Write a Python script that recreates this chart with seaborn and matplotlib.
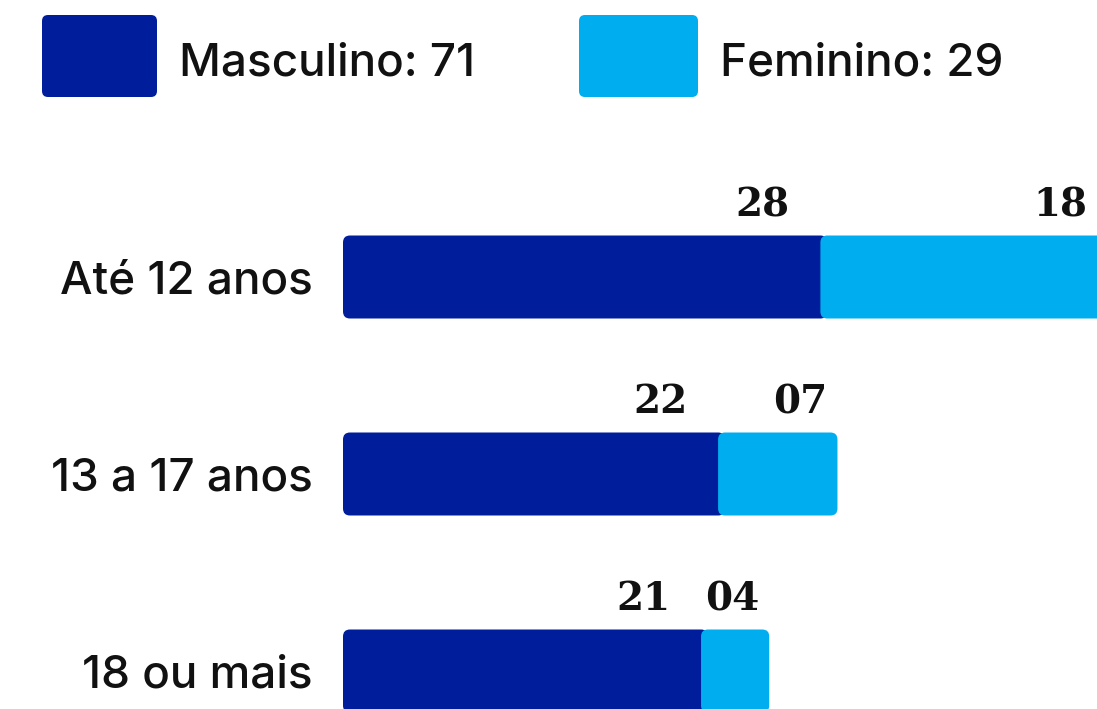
import matplotlib
matplotlib.use("Agg")
import matplotlib.pyplot as plt
from matplotlib.patches import FancyBboxPatch
import seaborn as sns
import pandas as pd

# ---- data ----
categories = ["Até 12 anos", "13 a 17 anos", "18 ou mais"]
masculino = [28, 22, 21]
feminino = [18, 7, 4]
series_names = ["Masculino", "Feminino"]

DARK = "#001E9B"
LIGHT = "#00AEEF"

sns.set_theme(style="white")
plt.rcParams["font.family"] = ["Inter", "DejaVu Sans"]

W, H = 1097, 709
fig = plt.figure(figsize=(W / 100, H / 100), dpi=100)

left_px = 343
ax = fig.add_axes([left_px / W, 0, (W - left_px) / W, 1])

df = pd.DataFrame({
    "cat": categories,
    "masc": masculino,
    "fem": feminino,
})
df["total"] = df["masc"] + df["fem"]

px_per_x = 17.05
px_per_y = 197.0
first_center = 277.0
bar_h = 83 / px_per_y

sns.barplot(data=df, y="cat", x="total", color=LIGHT, orient="h",
            width=bar_h, ax=ax, saturation=1, zorder=2)
n_tot = len(ax.patches)
sns.barplot(data=df, y="cat", x="masc", color=DARK, orient="h",
            width=bar_h, ax=ax, saturation=1, zorder=1)

xmax = (W - left_px) / px_per_x
ax.set_xlim(0, xmax)
ax.set_ylim((H - first_center) / px_per_y, -first_center / px_per_y)

# rounded corners
r_px = 7
rx = r_px / px_per_x
aspect = px_per_x / px_per_y
patches = list(ax.patches)
tot_p = patches[:n_tot]
masc_p = patches[n_tot:]
for p in patches:
    p.set_visible(False)
num_font = dict(family=["DejaVu Serif"], fontweight="bold", fontsize=28,
                color="#111111")
for i, (pt, pm) in enumerate(zip(tot_p, masc_p)):
    y0, h = pm.get_y(), pm.get_height()
    m = pm.get_width()
    t = pt.get_width()
    fb_m = FancyBboxPatch((pm.get_x(), y0), m + rx, h,
                          boxstyle=f"round,pad=0,rounding_size={rx}",
                          mutation_aspect=aspect, facecolor=DARK,
                          edgecolor="none", zorder=2)
    fb_f = FancyBboxPatch((m, y0), t - m, h,
                          boxstyle=f"round,pad=0,rounding_size={rx}",
                          mutation_aspect=aspect, facecolor=LIGHT,
                          edgecolor="none", zorder=3)
    ax.add_patch(fb_m)
    ax.add_patch(fb_f)
    top = y0
    ax.annotate(f"{masculino[i]:02d}", xy=(m, top), xytext=(-22, 14),
                textcoords="offset points", ha="right", va="baseline",
                annotation_clip=False, zorder=5, **num_font)
    ax.annotate(f"{feminino[i]:02d}", xy=(min(t, xmax), top),
                xytext=(-7, 14),
                textcoords="offset points", ha="right", va="baseline",
                annotation_clip=False, zorder=5, **num_font)

ax.set_xlabel("")
ax.set_ylabel("")
ax.set_xticks([])
ax.tick_params(axis="y", length=0, pad=22, labelsize=33, labelcolor="#111111")
for lab in ax.get_yticklabels():
    lab.set_fontweight("medium")
for s in ax.spines.values():
    s.set_visible(False)

# legend
totals = [sum(masculino), sum(feminino)]
leg_boxes = [(42, 157), (579, 698)]
colors = [DARK, LIGHT]
for (x0, x1), c, name, tot in zip(leg_boxes, colors, series_names, totals):
    rr = 6
    box = FancyBboxPatch((x0 / W, 1 - 97 / H), (x1 - x0) / W, 82 / H,
                         boxstyle=f"round,pad=0,rounding_size={rr / W}",
                         mutation_aspect=W / H, transform=fig.transFigure,
                         facecolor=c, edgecolor="none")
    fig.patches.append(box)
    fig.text((x1 + 22) / W, 1 - 75 / H, f"{name}: {tot}", fontsize=33,
             fontweight="medium", ha="left", va="baseline", color="#111111")

fig.savefig("out.png", dpi=100)
